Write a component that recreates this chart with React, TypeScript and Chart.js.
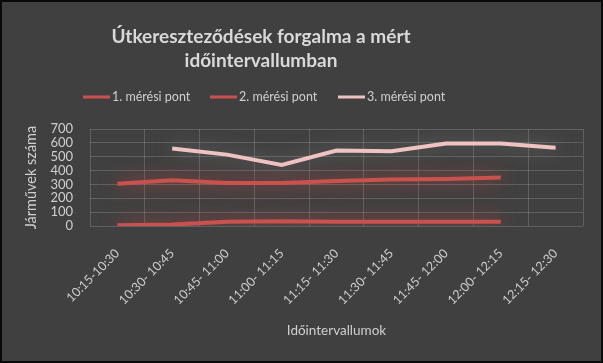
import React, { useEffect, useRef } from "react";
import { Chart, registerables } from "chart.js";

Chart.register(...registerables);

const categories = [
  "10:15-10:30",
  "10:30- 10:45",
  "10:45- 11:00",
  "11:00- 11:15",
  "11:15- 11:30",
  "11:30- 11:45",
  "11:45- 12:00",
  "12:00- 12:15",
  "12:15- 12:30",
];
const series1 = [5, 10, 30, 35, 30, 30, 30, 30, null];
const series2 = [305, 330, 310, 310, 325, 335, 340, 350, null];
const series3 = [null, 560, 515, 440, 545, 540, 595, 595, 565];
const seriesNames = ["1. mérési pont", "2. mérési pont", "3. mérési pont"];
const seriesColors = ["#c9524f", "#c9524f", "#efc3c2"];
const glowColors = ["rgba(215,70,70,0.9)", "rgba(215,70,70,0.9)", "rgba(140,140,140,0.7)"];
const yTicks = [0, 100, 200, 300, 400, 500, 600, 700];
const titleLines = ["Útkereszteződések forgalma a mért", "időintervallumban"];

const FONT = "Lato, 'Liberation Sans', sans-serif";
const TEXT = "#cfcfcf";

const framePlugin = {
  id: "frame",
  beforeDraw(chart: any) {
    const ctx = chart.ctx;
    ctx.save();
    ctx.fillStyle = "#404040";
    ctx.fillRect(0, 0, chart.width, chart.height);
    ctx.restore();
  },
  afterDraw(chart: any) {
    const ctx = chart.ctx;
    ctx.save();
    ctx.strokeStyle = "#0a0a0a";
    ctx.lineWidth = 2;
    ctx.strokeRect(1, 1, chart.width - 2, chart.height - 2);
    // title
    const cx = 261;
    ctx.fillStyle = "#d9d9d9";
    ctx.textAlign = "center";
    ctx.textBaseline = "middle";
    ctx.font = `bold 19px ${FONT}`;
    ctx.fillText(titleLines[0], cx, 37);
    ctx.fillText(titleLines[1], cx, 61);
    // legend
    ctx.font = `12.5px ${FONT}`;
    ctx.textAlign = "left";
    const starts = [83, 210, 338];
    seriesNames.forEach((name, i) => {
      const x0 = starts[i];
      ctx.strokeStyle = seriesColors[i];
      ctx.lineWidth = 3;
      ctx.beginPath();
      ctx.moveTo(x0, 97);
      ctx.lineTo(x0 + 27, 97);
      ctx.stroke();
      ctx.fillStyle = TEXT;
      ctx.fillText(name, x0 + 29, 97);
    });
    ctx.restore();
  },
};

const glowPlugin = {
  id: "glow",
  beforeDatasetDraw(chart: any, args: any) {
    const ctx = chart.ctx;
    ctx.save();
    ctx.shadowColor = glowColors[args.index];
    ctx.shadowBlur = 18;
  },
  afterDatasetDraw(chart: any) {
    chart.ctx.restore();
  },
};

export default function App() {
  const ref = useRef<HTMLCanvasElement>(null);
  useEffect(() => {
    document.body.style.margin = "0";
    const chart = new Chart(ref.current!, {
      type: "line",
      data: {
        labels: categories,
        datasets: [series1, series2, series3].map((d, i) => ({
          label: seriesNames[i],
          data: d,
          borderColor: seriesColors[i],
          backgroundColor: seriesColors[i],
          borderWidth: 4,
          pointRadius: 0,
          tension: 0,
        })),
      },
      options: {
        animation: false,
        responsive: false,
        maintainAspectRatio: false,
        layout: { padding: { left: 0, right: 20, top: 129, bottom: 18 } },
        plugins: {
          title: { display: false },
          legend: { display: false },
          tooltip: { enabled: false },
        },
        scales: {
          x: {
            offset: true,
            grid: { offset: true, color: "rgba(255,255,255,0.17)", drawTicks: false },
            border: { display: false },
            ticks: { color: TEXT, font: { family: FONT, size: 12.5 }, maxRotation: 45, minRotation: 45, padding: 20, autoSkip: false },
            title: { display: true, text: "Időintervallumok", color: TEXT, font: { family: FONT, size: 13.5 }, padding: { top: 0, bottom: 6 } },
            afterFit: (axis: any) => {
              axis.height = 363 - 226 - 18;
            },
          },
          y: {
            min: 0,
            max: 700,
            afterBuildTicks: (axis: any) => {
              axis.ticks = yTicks.map((v) => ({ value: v }));
            },
            grid: { color: "rgba(255,255,255,0.17)", drawTicks: false },
            border: { display: false },
            ticks: { color: TEXT, font: { family: FONT, size: 13 }, padding: 17, autoSkip: false },
            title: { display: true, text: "Járművek száma", color: TEXT, font: { family: FONT, size: 14.5 }, padding: { top: 23, bottom: 0 } },
            afterFit: (axis: any) => {
              axis.width = 90;
            },
          },
        },
      },
      plugins: [framePlugin, glowPlugin],
    });
    return () => chart.destroy();
  }, []);
  return (
    <div style={{ position: "fixed", left: 0, top: 0, width: 603, height: 363 }}>
      <canvas ref={ref} width={603} height={363} style={{ display: "block" }} />
    </div>
  );
}
